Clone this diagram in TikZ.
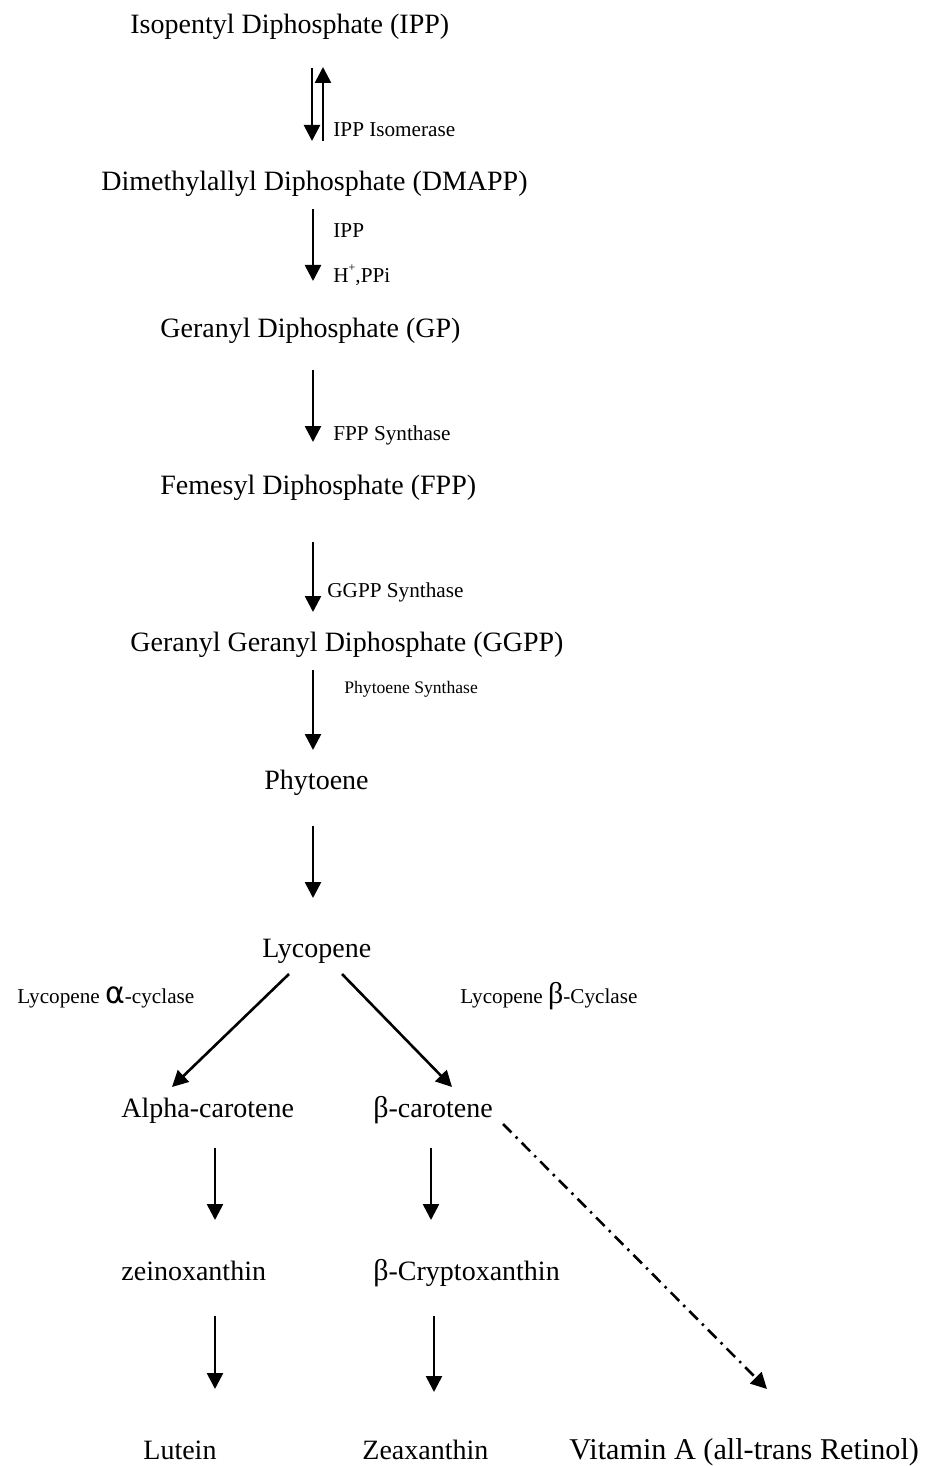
\documentclass[tikz,border=0pt]{standalone}
\usepackage{fontspec}
\setmainfont{Liberation Serif}
\newfontfamily\symfont{DejaVu Sans}
\usetikzlibrary{arrows.meta}
\begin{document}
\begin{tikzpicture}[x=0.5pt,y=-0.5pt,
  chem/.style={anchor=base west, inner sep=0pt, font=\fontsize{14}{16}\selectfont},
  enz/.style={anchor=base west, inner sep=0pt, font=\fontsize{10.6}{12}\selectfont},
  enzs/.style={anchor=base west, inner sep=0pt, font=\fontsize{8.8}{10}\selectfont},
  rx/.style={line width=1.3pt, -{Triangle[width=8pt,length=8pt]}},
  dd/.style={line width=1.3pt, dash pattern=on 6pt off 3pt on 1.2pt off 3pt, -{Triangle[width=8pt,length=8pt]}}]
\useasboundingbox (0,0) rectangle (928,1466);
% compounds
\node[chem] (ipp) at (130,34) {Isopentyl Diphosphate (IPP)};
\node[chem] (dmapp) at (101,191) {Dimethylallyl Diphosphate (DMAPP)};
\node[chem] (gp) at (160,337) {Geranyl Diphosphate (GP)};
\node[chem] (fpp) at (160,494) {Femesyl Diphosphate (FPP)};
\node[chem] (ggpp) at (130,651) {Geranyl Geranyl Diphosphate (GGPP)};
\node[chem] (phy) at (264,789) {Phytoene};
\node[chem] (lyc) at (262,957) {Lycopene};
\node[chem] (alpha) at (121,1117) {Alpha-carotene};
\node[chem] (beta) at (373,1117) {{\fontsize{15}{15}\selectfont β}-carotene};
\node[chem] (zein) at (121,1280) {zeinoxanthin};
\node[chem] (bcry) at (373,1280) {{\fontsize{15}{15}\selectfont β}-Cryptoxanthin};
\node[chem] (lut) at (143,1459) {Lutein};
\node[chem] (zea) at (362,1459) {Zeaxanthin};
\node[chem, font=\fontsize{15.1}{17}\selectfont] (vita) at (569,1459) {Vitamin A (all-trans Retinol)};
% enzyme labels
\node[enz] (e1) at (333,137) {IPP Isomerase};
\node[enz] (e2a) at (333,238) {IPP};
\node[enz] (e2b) at (333,282) {H\raisebox{1.1ex}{\fontsize{6}{6}\selectfont +},PPi};
\node[enz] (e3) at (333,440) {FPP Synthase};
\node[enz] (e4) at (327,597) {GGPP Synthase};
\node[enzs] (e5) at (344,693) {Phytoene Synthase};
\node[enz] (e6) at (17,1003) {Lycopene {\symfont\fontsize{15}{15}\selectfont α}-cyclase};
\node[enz] (e7) at (460,1003) {Lycopene {\fontsize{15}{15}\selectfont β}-Cyclase};
% arrow end points
\coordinate (a1s) at (312,68);  \coordinate (a1e) at (312,141);
\coordinate (a1u) at (323,141); \coordinate (a1v) at (323,67);
\coordinate (a2s) at (313,209); \coordinate (a2e) at (313,281);
\coordinate (a3s) at (313,370); \coordinate (a3e) at (313,442);
\coordinate (a4s) at (313,542); \coordinate (a4e) at (313,612);
\coordinate (a5s) at (313,670); \coordinate (a5e) at (313,750);
\coordinate (a6s) at (313,826); \coordinate (a6e) at (313,898);
\coordinate (l1s) at (289,974); \coordinate (l1e) at (172,1087);
\coordinate (l2s) at (342,974); \coordinate (l2e) at (452,1087);
\coordinate (b1s) at (215,1148); \coordinate (b1e) at (215,1220);
\coordinate (b2s) at (431,1148); \coordinate (b2e) at (431,1220);
\coordinate (c1s) at (215,1316); \coordinate (c1e) at (215,1389);
\coordinate (c2s) at (434,1316); \coordinate (c2e) at (434,1392);
\coordinate (d1s) at (503,1124); \coordinate (d1e) at (767,1389);
% connectors
\draw[rx] (a1s) -- (a1e);
\draw[rx] (a1u) -- (a1v);
\draw[rx] (a2s) -- (a2e);
\draw[rx] (a3s) -- (a3e);
\draw[rx] (a4s) -- (a4e);
\draw[rx] (a5s) -- (a5e);
\draw[rx] (a6s) -- (a6e);
\draw[rx] (l1s) -- (l1e);
\draw[rx] (l2s) -- (l2e);
\draw[rx] (b1s) -- (b1e);
\draw[rx] (b2s) -- (b2e);
\draw[rx] (c1s) -- (c1e);
\draw[rx] (c2s) -- (c2e);
\draw[dd] (d1s) -- (d1e);
\end{tikzpicture}
\end{document}
